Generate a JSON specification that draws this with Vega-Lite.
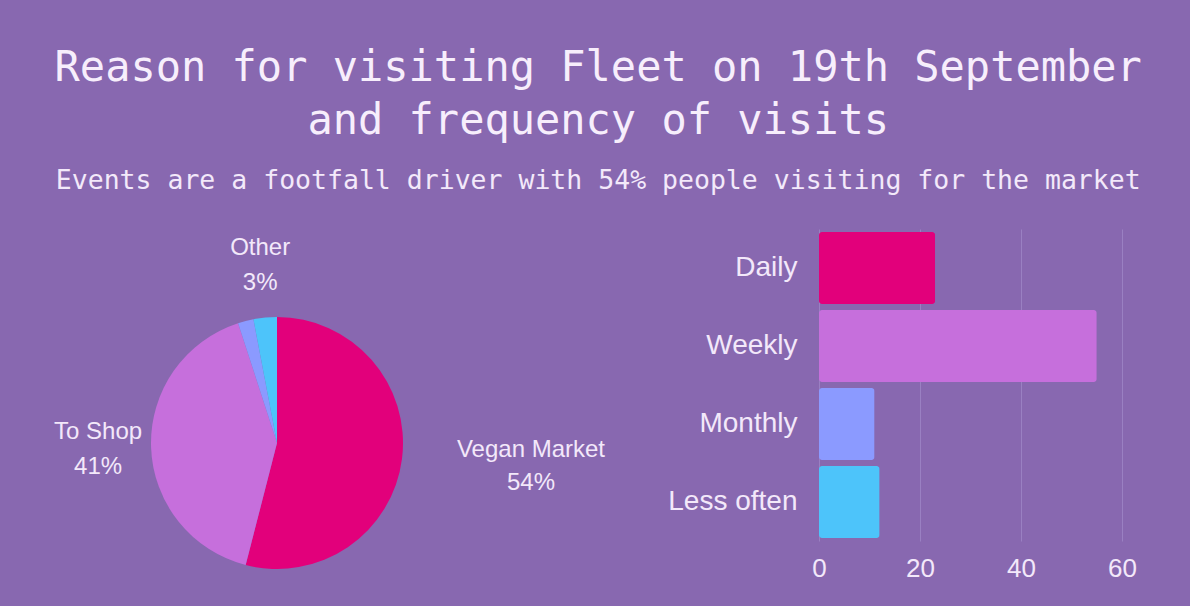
{
  "$schema": "https://vega.github.io/schema/vega-lite/v6.json",
  "background": "#8868b0",
  "padding": {"left": 0, "top": 46, "right": 68, "bottom": 0},
  "bounds": "flush",
  "spacing": 265,
  "title": {
    "text": ["Reason for visiting Fleet on 19th September", "and frequency of visits"],
    "subtitle": "Events are a footfall driver with 54% people visiting for the market",
    "anchor": "middle",
    "dx": 30,
    "font": "DejaVu Sans Mono",
    "fontSize": 42,
    "fontWeight": "normal",
    "lineHeight": 53,
    "color": "#f7eefc",
    "subtitleFont": "DejaVu Sans Mono",
    "subtitleFontSize": 26.5,
    "subtitleColor": "#f3e9fa",
    "subtitlePadding": 25,
    "offset": -44
  },
  "datasets": {
    "reasons": [
      {"reason": "Vegan Market", "share": 0.54, "rank": 1},
      {"reason": "To Shop", "share": 0.41, "rank": 2},
      {"reason": "Other (minor)", "share": 0.02, "rank": 3},
      {"reason": "Other", "share": 0.03, "rank": 4}
    ],
    "frequency": [
      {"frequency": "Daily", "count": 23},
      {"frequency": "Weekly", "count": 55},
      {"frequency": "Monthly", "count": 11},
      {"frequency": "Less often", "count": 12}
    ]
  },
  "config": {
    "view": {"stroke": null},
    "text": {"font": "Liberation Sans", "fontSize": 24, "color": "#f3e8fa", "align": "center", "baseline": "middle"}
  },
  "hconcat": [
    {
      "width": 554,
      "height": 428,
      "data": {"name": "reasons"},
      "encoding": {
        "theta": {"field": "share", "type": "quantitative", "stack": true},
        "order": {"field": "rank", "type": "quantitative"}
      },
      "layer": [
        {
          "mark": {"type": "arc", "outerRadius": 126},
          "encoding": {
            "color": {
              "field": "reason",
              "type": "nominal",
              "scale": {
                "domain": ["Vegan Market", "To Shop", "Other (minor)", "Other"],
                "range": ["#e2007b", "#c66fdc", "#8b9aff", "#4dc4fa"]
              },
              "legend": null
            }
          }
        },
        {
          "mark": {"type": "text", "radius": 256, "dy": -25},
          "encoding": {
            "text": {"condition": {"test": "datum.reason == 'Vegan Market'", "field": "reason"}, "value": ""}
          }
        },
        {
          "mark": {"type": "text", "radius": 256, "dy": 8},
          "encoding": {
            "text": {"condition": {"test": "datum.reason == 'Vegan Market'", "field": "share", "format": ".0%"}, "value": ""}
          }
        },
        {
          "mark": {"type": "text", "radius": 179, "dy": -17},
          "encoding": {
            "text": {"condition": {"test": "datum.reason == 'To Shop' || datum.reason == 'Other'", "field": "reason"}, "value": ""}
          }
        },
        {
          "mark": {"type": "text", "radius": 179, "dy": 18},
          "encoding": {
            "text": {"condition": {"test": "datum.reason == 'To Shop' || datum.reason == 'Other'", "field": "share", "format": ".0%"}, "value": ""}
          }
        }
      ]
    },
    {
      "width": 303,
      "height": 312,
      "data": {"name": "frequency"},
      "mark": {"type": "bar", "cornerRadius": 3},
      "encoding": {
        "y": {
          "field": "frequency",
          "type": "nominal",
          "sort": ["Daily", "Weekly", "Monthly", "Less often"],
          "scale": {"paddingInner": 0.08, "paddingOuter": 0.04},
          "axis": {
            "title": null,
            "domain": false,
            "ticks": false,
            "grid": false,
            "labelPadding": 22,
            "labelFont": "Liberation Sans",
            "labelFontSize": 28,
            "labelColor": "#f3e8fa"
          }
        },
        "x": {
          "field": "count",
          "type": "quantitative",
          "scale": {"domain": [0, 60], "nice": false},
          "axis": {
            "title": null,
            "values": [0, 20, 40, 60],
            "domain": false,
            "ticks": false,
            "grid": true,
            "gridColor": "#9a80c2",
            "gridWidth": 1,
            "labelPadding": 14,
            "labelFont": "Liberation Sans",
            "labelFontSize": 26,
            "labelColor": "#f3e8fa",
            "labelFlush": false
          }
        },
        "color": {
          "field": "frequency",
          "type": "nominal",
          "scale": {
            "domain": ["Daily", "Weekly", "Monthly", "Less often"],
            "range": ["#e2007b", "#c462d4", "#8b9aff", "#4dc4fa"]
          },
          "legend": null
        }
      }
    }
  ]
}
